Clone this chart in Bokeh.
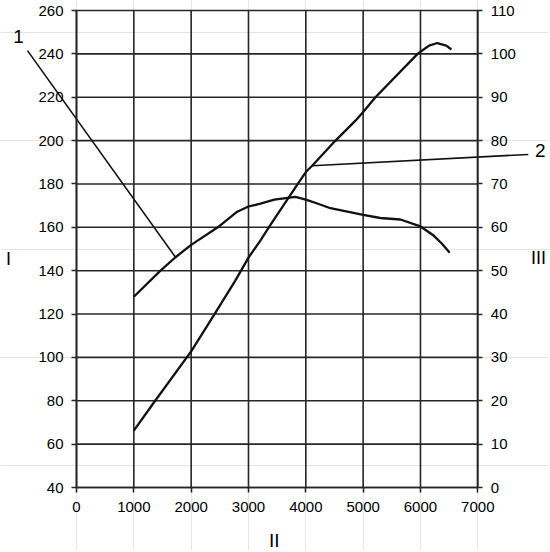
from bokeh.plotting import figure
from bokeh.models import Range1d, LinearAxis, FixedTicker, Label
from bokeh.embed import file_html
from bokeh.resources import INLINE

# Curve 1 (read against left axis I)
rpm_1 = [1000, 1465, 1727, 2000, 2465, 2803, 3000, 3209, 3450, 3820, 4000, 4200, 4430, 5000, 5300, 5650, 6000, 6230, 6380, 6510]
curve_1 = [128.0, 140.0, 146.2, 151.9, 160.0, 167.2, 169.6, 170.9, 172.8, 174.0, 172.8, 171.0, 168.8, 165.7, 164.3, 163.6, 160.4, 156.2, 152.3, 148.3]

# Curve 2 (read against right axis III)
rpm_2 = [1000, 1350, 2000, 2400, 2770, 3000, 3210, 3354, 3860, 4000, 4111, 4518, 4866, 5000, 5215, 5950, 6000, 6150, 6295, 6450, 6540]
curve_2 = [13.1, 19.6, 31.4, 39.8, 47.7, 53.0, 57.0, 60.0, 70.0, 72.75, 74.2, 80.0, 84.6, 86.6, 90.0, 100.0, 100.5, 101.9, 102.5, 101.9, 101.0]

# callouts: leader end points away from the curves, and the number positions
leader_1_end = (-855, 241.5)      # left-axis units
leader_2_end = (7881, 76.8)       # right-axis units
callout_1 = ("1", -1010, 248.0)   # left-axis units
callout_2 = ("2", 8090, 77.7)     # right-axis units

# axis titles (text, x, y in left-axis units)
axis_titles = [("I", -1186, 145.6, "18px"), ("III", 8059, 146.0, "18px"), ("II", 3450, 15.5, "19px")]

x_ticks = [0, 1000, 2000, 3000, 4000, 5000, 6000, 7000]
left_ticks = [40, 60, 80, 100, 120, 140, 160, 180, 200, 220, 240, 260]
right_ticks = [0, 10, 20, 30, 40, 50, 60, 70, 80, 90, 100, 110]

FONT = "Liberation Sans"
INK = "#111111"
GRID = "#262626"

W, H = 548, 550
X0_PX, X1_PX = 76.0, 477.3          # pixel columns of 0 and 7000
YT_PX, YB_PX = 10.0, 487.0          # pixel rows of 260 and 40
sx = (X1_PX - X0_PX) / (x_ticks[-1] - x_ticks[0])
sy = (YB_PX - YT_PX) / (left_ticks[-1] - left_ticks[0])
x_start = x_ticks[0] - X0_PX / sx
x_end = x_ticks[-1] + (W - X1_PX) / sx
y_start = left_ticks[0] - (H - YB_PX) / sy
y_end = left_ticks[-1] + YT_PX / sy
# right axis III: same rows, 0..110 against 40..260
k = (right_ticks[-1] - right_ticks[0]) / (left_ticks[-1] - left_ticks[0])
r_start = right_ticks[0] + (y_start - left_ticks[0]) * k
r_end = right_ticks[0] + (y_end - left_ticks[0]) * k

p = figure(width=W, height=H, x_range=Range1d(x_start, x_end), y_range=Range1d(y_start, y_end),
           x_axis_location=None, y_axis_location=None,
           output_backend="svg", toolbar_location=None, min_border=0,
           min_border_left=0, min_border_right=0, min_border_top=0, min_border_bottom=0)
p.extra_y_ranges = {"right": Range1d(r_start, r_end)}
p.outline_line_color = None

left_axis = LinearAxis(ticker=FixedTicker(ticks=left_ticks), fixed_location=x_ticks[0],
                       bounds=(left_ticks[0], left_ticks[-1]))
right_axis = LinearAxis(y_range_name="right", ticker=FixedTicker(ticks=right_ticks),
                        fixed_location=x_ticks[-1], bounds=(right_ticks[0], right_ticks[-1]))
bottom_axis = LinearAxis(ticker=FixedTicker(ticks=x_ticks), fixed_location=left_ticks[0],
                         bounds=(x_ticks[0], x_ticks[-1]))
p.add_layout(left_axis, "left")
p.add_layout(right_axis, "right")
p.add_layout(bottom_axis, "below")

for ax in (left_axis, right_axis, bottom_axis):
    ax.major_label_text_font = FONT
    ax.major_label_text_font_size = "15px"
    ax.major_label_text_color = "#000000"
    ax.axis_line_color = GRID
    ax.axis_line_width = 1.7
    ax.major_tick_line_color = GRID
    ax.major_tick_line_width = 1.6
    ax.minor_tick_line_color = None
    ax.major_tick_in = 0
    ax.major_tick_out = 5
left_axis.major_label_standoff = 8
right_axis.major_label_standoff = 8
bottom_axis.major_label_standoff = 9

# grid lines, limited to the 0..7000 x 40..260 box
p.segment(x0=x_ticks[0], x1=x_ticks[-1], y0=left_ticks, y1=left_ticks,
          line_color=GRID, line_width=1.6)
p.segment(x0=x_ticks, x1=x_ticks, y0=left_ticks[0], y1=left_ticks[-1],
          line_color=GRID, line_width=1.6)

p.line(rpm_1, curve_1, line_color=INK, line_width=2.3)
p.line(rpm_2, curve_2, line_color=INK, line_width=2.3, y_range_name="right")

# leader lines from the curves to the callout numbers
i1 = rpm_1.index(1727)
i2 = rpm_2.index(4111)
p.line([rpm_1[i1], leader_1_end[0]], [curve_1[i1], leader_1_end[1]],
       line_color=INK, line_width=1.6)
p.line([rpm_2[i2], leader_2_end[0]], [curve_2[i2], leader_2_end[1]],
       line_color=INK, line_width=1.6, y_range_name="right")
p.add_layout(Label(x=callout_1[1], y=callout_1[2], text=callout_1[0], text_font=FONT,
                   text_font_size="19px", text_align="center", text_baseline="middle",
                   text_color="#000000"))
p.add_layout(Label(x=callout_2[1], y=callout_2[2], text=callout_2[0], text_font=FONT,
                   text_font_size="19px", text_align="center", text_baseline="middle",
                   text_color="#000000", y_range_name="right"))
for txt, tx, ty, fs in axis_titles:
    p.add_layout(Label(x=tx, y=ty, text=txt, text_font=FONT, text_font_size=fs,
                       text_align="center", text_baseline="middle", text_color="#000000"))

open("out.html", "w").write(file_html(p, INLINE))
